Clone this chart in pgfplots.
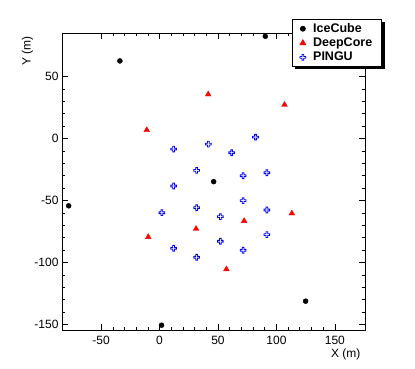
\documentclass[border=0pt]{standalone}
\usepackage{fontspec}
\setmainfont{Liberation Sans}
\usepackage{pgfplots}
\pgfplotsset{compat=1.18}
\usetikzlibrary{shadows}

% cross-shaped polygon: #1 half length, #2 half arm width
\newcommand\crosspoly[2]{%
  \pgfpathmoveto{\pgfqpoint{#2}{#1}}%
  \pgfpathlineto{\pgfqpoint{-#2}{#1}}%
  \pgfpathlineto{\pgfqpoint{-#2}{#2}}%
  \pgfpathlineto{\pgfqpoint{-#1}{#2}}%
  \pgfpathlineto{\pgfqpoint{-#1}{-#2}}%
  \pgfpathlineto{\pgfqpoint{-#2}{-#2}}%
  \pgfpathlineto{\pgfqpoint{-#2}{-#1}}%
  \pgfpathlineto{\pgfqpoint{#2}{-#1}}%
  \pgfpathlineto{\pgfqpoint{#2}{-#2}}%
  \pgfpathlineto{\pgfqpoint{#1}{-#2}}%
  \pgfpathlineto{\pgfqpoint{#1}{#2}}%
  \pgfpathlineto{\pgfqpoint{#2}{#2}}%
  \pgfpathclose
}
% open cross (ROOT marker 28), drawn as a filled outline
\pgfdeclareplotmark{ocross}{%
  \crosspoly{\pgfplotmarksize}{0.4\pgfplotmarksize}%
  \crosspoly{\dimexpr\pgfplotmarksize-0.9pt\relax}{\dimexpr0.4\pgfplotmarksize-0.9pt\relax}%
  \pgfseteorule
  \pgfusepathqfill
}

\begin{document}
\begin{tikzpicture}[x=1pt,y=1pt]
\useasboundingbox (0,0) rectangle (415,368);
\begin{axis}[
    at={(62pt,38pt)}, anchor=south west,
    width=303pt, height=297pt, scale only axis,
    xmin=-83.5, xmax=175.8,
    ymin=-154.5, ymax=85,
    xtick={-50,0,...,150},
    ytick={-150,-100,...,50},
    minor tick num=4,
    tick align=inside,
    major tick length=6pt,
    minor tick length=3pt,
    every tick/.style={black, line width=0.6pt},
    axis line style={line width=0.8pt},
    ticklabel style={font=\fontsize{12}{14}\selectfont},
    xticklabel style={yshift=-3pt},
    /pgf/number format/assume math mode=true,
    legend style={
        at={(0.758,1.047)}, anchor=north west,
        draw=black, line width=0.8pt, fill=white,
        drop shadow={shadow xshift=3pt, shadow yshift=-3pt, fill=black, opacity=1},
        font=\bfseries\fontsize{12.5}{14}\selectfont,
        row sep=0pt, inner xsep=7.5pt, inner ysep=2pt,
        /tikz/every odd column/.append style={column sep=5pt},
        legend cell align=left,
    },
]
\addplot[only marks, mark=*, mark size=2.5pt, black] coordinates {
    (90.49,82.35) (-33.96,62.48) (-77.80,-54.33) (46.29,-34.88)
    (124.97,-131.25) (1.71,-150.63)
};
\addlegendentry{IceCube}

\addplot[only marks, mark=triangle*, mark size=3.3pt, red] coordinates {
    (31.25,-72.93) (72.37,-66.60) (41.60,35.49) (106.94,27.09)
    (113.19,-60.47) (57.20,-105.52) (-9.68,-79.50) (-10.97,6.72)
};
\addlegendentry{DeepCore}

\addplot[only marks, mark=ocross, mark size=3.3pt, blue] coordinates {
    (82.1,1.0) (41.8,-4.6) (12.0,-8.6) (61.7,-11.6)
    (31.7,-25.8) (71.5,-30.1) (91.8,-27.7) (12.0,-38.4)
    (71.5,-50.2) (2.0,-59.9) (31.7,-55.9) (52.0,-63.1)
    (91.8,-57.7) (91.8,-77.6) (52.0,-82.9) (12.0,-88.6)
    (71.5,-90.2) (31.7,-95.8)
};
\addlegendentry{PINGU}
\end{axis}
\node[rotate=90, anchor=east, font=\fontsize{12}{14}\selectfont] at (27.5,335.5) {Y (m)};
\node[anchor=east, font=\fontsize{12}{14}\selectfont] at (364,14) {X (m)};
\end{tikzpicture}
\end{document}
